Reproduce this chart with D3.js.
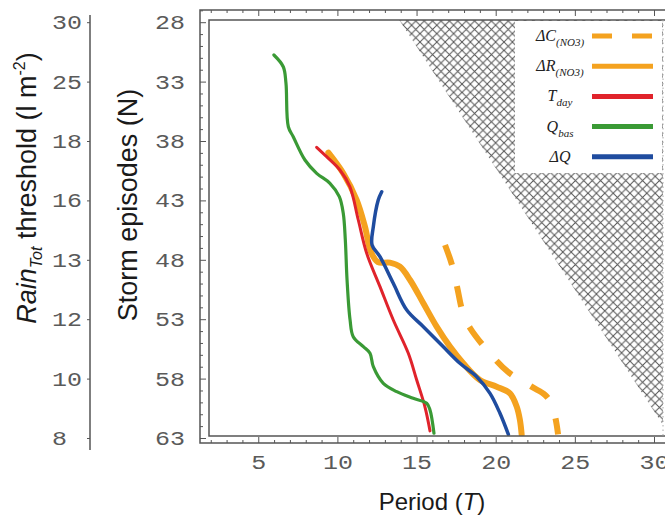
<!doctype html>
<html>
<head>
<script src="https://d3js.org/d3.v7.min.js"></script>
<style>
  body { margin: 0; background: #fff; }
  .num text { font-family: "Liberation Mono", monospace; font-size: 20px; fill: #5a5a5a; }
  .title { font-family: "Liberation Sans", Arial, sans-serif; fill: #1a1a1a; }
  .leg { font-family: "Liberation Serif", "Times New Roman", serif; font-style: italic; font-size: 16px; fill: #222; }
  .frame { fill: none; stroke: #555; stroke-width: 1.5; }
  .fticks line { stroke: #555; stroke-width: 1; }
</style>
</head>
<body>
<svg id="chart" width="665" height="518"></svg>
<script>
// tick labels
const nTicks = [28, 33, 38, 43, 48, 53, 58, 63];
const rainTicks = ["30", "25", "18", "16", "13", "12", "10", "8"];
const periodTicks = [5, 10, 15, 20, 25, 30];

// series: [period T, storm episodes N]
const dCNO3 = [[16.8,46.75],[17.24,48.43],[17.56,50.28],[17.93,52.47],[18.38,53.74],[19.83,56.18],[20.78,57.44],[22.29,58.7],[23.12,59.38],[23.56,60.22],[23.8,61.5],[23.94,62.7]];
const dRNO3 = [[9.43,38.98],[10.37,40.72],[11.22,42.97],[11.74,45.21],[12.12,47.34],[12.56,48.19],[13.32,48.24],[13.95,48.58],[14.59,49.7],[15.43,51.66],[16.27,53.63],[17.11,55.31],[17.95,56.71],[19.0,58.11],[20.06,58.68],[20.9,59.24],[21.33,60.37],[21.53,61.49],[21.64,62.7]];
const tDay = [[8.69,38.53],[9.32,39.32],[10.16,40.44],[10.79,41.85],[11.32,44.65],[11.85,47.45],[12.69,50.26],[13.53,53.07],[14.48,55.87],[15.01,58.12],[15.53,60.37],[15.85,62.4]];
const qBas = [[5.99,30.76],[6.58,31.75],[6.75,33.12],[6.9,36.8],[7.21,37.64],[7.95,39.6],[8.69,40.72],[9.53,41.56],[10.12,42.69],[10.37,44.09],[10.5,46.33],[10.61,49.7],[10.8,53.06],[11.0,54.47],[11.64,55.31],[12.06,55.87],[12.27,57.0],[12.9,58.4],[13.75,59.1],[14.79,59.66],[15.64,60.08],[15.85,60.64],[16.1,62.6]];
const dQ = [[12.8,42.27],[12.58,42.97],[12.27,45.21],[12.19,46.75],[12.69,47.74],[13.53,49.98],[14.38,52.23],[15.43,53.63],[16.69,55.32],[17.74,56.71],[18.8,57.84],[19.64,59.24],[20.27,60.92],[20.8,62.7]];

// edge of the hatched (excluded) region
const hatchEdge = [[13.9, 27.8], [31.1, 63]];

const series = [
  { name: "ΔC", sub: "(NO3)", data: dCNO3, color: "#f4a21f", width: 6, dash: "21,22" },
  { name: "ΔR", sub: "(NO3)", data: dRNO3, color: "#f4a21f", width: 6, dash: null },
  { name: "T", sub: "day", data: tDay, color: "#e0232b", width: 3, dash: null },
  { name: "Q", sub: "bas", data: qBas, color: "#3a9a35", width: 3.2, dash: null },
  { name: "ΔQ", sub: "", data: dQ, color: "#1f4c9f", width: 3.5, dash: null }
];

const svg = d3.select("#chart");
const outer = { left: 200, top: 10, bottom: 443, right: 700 };
const inner = { left: 209, top: 20, bottom: 436, right: 663 };

const x = d3.scaleLinear().domain([0, 30]).range([179.1, 654]);
const y = d3.scaleLinear().domain([28, 63]).range([22.2, 438]);

// hatch pattern
const defs = svg.append("defs");
const hs = 8.4;
const pat = defs.append("pattern").attr("id", "hatch")
  .attr("patternUnits", "userSpaceOnUse").attr("width", hs).attr("height", hs);
pat.append("path").attr("d", `M0,0L${hs},${hs}M0,${hs}L${hs},0`)
  .attr("stroke", "#555").attr("stroke-width", 1);
defs.append("clipPath").attr("id", "plotclip").append("rect")
  .attr("x", inner.left).attr("y", inner.top)
  .attr("width", inner.right - inner.left).attr("height", inner.bottom - inner.top);

const plot = svg.append("g").attr("clip-path", "url(#plotclip)");
const hatchPoly = hatchEdge.concat([[40, hatchEdge[1][1]], [40, hatchEdge[0][1]]]);
plot.append("path")
  .attr("d", "M" + hatchPoly.map(p => x(p[0]) + "," + y(p[1])).join("L") + "Z")
  .attr("fill", "url(#hatch)");

// frames
svg.append("rect").attr("class", "frame")
  .attr("x", outer.left).attr("y", outer.top)
  .attr("width", outer.right - outer.left).attr("height", outer.bottom - outer.top);
svg.append("rect").attr("class", "frame")
  .attr("x", inner.left).attr("y", inner.top)
  .attr("width", 800).attr("height", inner.bottom - inner.top);
svg.append("line").attr("x1", inner.right).attr("x2", inner.right)
  .attr("y1", inner.top).attr("y2", inner.bottom)
  .attr("stroke", "#aaa").attr("stroke-dasharray", "1.5,3");

// frame ticks (inward)
const xMinor = d3.range(2, 33), nMinor = d3.range(27, 64);
const tickLen = (major) => major ? 6 : 3;
function frameTicks(axisFn, scale, vals, isMajor, pos, sign) {
  [false, true].forEach(m => {
    const g = svg.append("g").attr("class", "fticks").attr("transform", pos)
      .call(axisFn(scale).tickValues(vals.filter(v => isMajor(v) === m))
        .tickSize(sign * tickLen(m)).tickFormat(""));
    g.select(".domain").remove();
  });
}
frameTicks(d3.axisBottom, x, xMinor, v => v % 5 === 0, `translate(0,${outer.bottom})`, -1);
frameTicks(d3.axisTop, x, xMinor, v => v % 5 === 0, `translate(0,${outer.top})`, -1);
frameTicks(d3.axisLeft, y, nMinor, v => (v - 28) % 5 === 0, `translate(${outer.left},0)`, -1);

// lines
const line = d3.line().x(d => x(d[0])).y(d => y(d[1])).curve(d3.curveCatmullRom.alpha(0.5));
plot.selectAll("path.series").data(series).enter().append("path")
  .attr("class", "series")
  .attr("d", s => line(s.data))
  .attr("fill", "none")
  .attr("stroke", s => s.color)
  .attr("stroke-width", s => s.width)
  .attr("stroke-dasharray", s => s.dash)
  .attr("stroke-linecap", s => s.dash ? "butt" : "round")
  .attr("stroke-linejoin", "round");

// legend
svg.append("rect").attr("x", 515).attr("y", 21).attr("width", 147).attr("height", 152).attr("fill", "#fff");
const leg = svg.append("g").selectAll("g").data(series).enter().append("g")
  .attr("transform", (s, i) => `translate(0,${36 + i * 30.2})`);
leg.append("line").attr("x1", 592).attr("x2", 653)
  .attr("stroke", s => s.color).attr("stroke-width", 5)
  .attr("stroke-dasharray", s => s.dash ? "20,20" : null);
const lt = leg.append("text").attr("class", "leg").attr("x", 560).attr("y", 5).attr("text-anchor", "middle");
lt.append("tspan").text(s => s.name);
lt.append("tspan").attr("font-size", 11).attr("dy", 5).text(s => s.sub);

// tick labels
const nAxis = svg.append("g").attr("class", "num").attr("transform", `translate(${outer.left},0)`)
  .call(d3.axisLeft(y).tickValues(nTicks).tickSize(0).tickPadding(15));
nAxis.select(".domain").remove();
nAxis.selectAll("text").attr("textLength", 30).attr("lengthAdjust", "spacingAndGlyphs");

const xAxis = svg.append("g").attr("class", "num").attr("transform", `translate(0,${outer.bottom})`)
  .call(d3.axisBottom(x).tickValues(periodTicks).tickSize(0).tickPadding(12));
xAxis.select(".domain").remove();
xAxis.selectAll("text").attr("textLength", d => String(d).length * 15).attr("lengthAdjust", "spacingAndGlyphs");

const rainScale = d3.scalePoint().domain(rainTicks).range([y(nTicks[0]), y(nTicks[nTicks.length - 1])]);
const rAxis = svg.append("g").attr("class", "num").attr("transform", "translate(90,0)")
  .call(d3.axisLeft(rainScale).tickSize(3).tickPadding(5).tickFormat(d => d.length < 2 ? d + "\u00A0" : d));
rAxis.select(".domain").remove();
rAxis.selectAll("line").attr("stroke", "#555");
rAxis.selectAll("text").attr("textLength", 30).attr("lengthAdjust", "spacingAndGlyphs");
svg.append("line").attr("x1", 90).attr("x2", 90).attr("y1", 15).attr("y2", 450)
  .attr("stroke", "#555").attr("stroke-width", 1.5);

// axis titles
const rt = svg.append("text").attr("class", "title").attr("font-size", 27)
  .attr("transform", "translate(36,188) rotate(-90)").attr("text-anchor", "middle");
rt.append("tspan").attr("font-style", "italic").text("Rain");
rt.append("tspan").attr("font-style", "italic").attr("font-size", 16).attr("dy", 6).text("Tot");
rt.append("tspan").attr("dy", -6).text(" threshold (l m");
rt.append("tspan").attr("font-size", 16).attr("dy", -11).text("-2");
rt.append("tspan").attr("dy", 11).text(")");

svg.append("text").attr("class", "title").attr("font-size", 27)
  .attr("transform", "translate(137,205) rotate(-90)").attr("text-anchor", "middle")
  .text("Storm episodes (N)");

const pt = svg.append("text").attr("class", "title").attr("font-size", 24)
  .attr("x", 432).attr("y", 510).attr("text-anchor", "middle");
pt.append("tspan").text("Period (");
pt.append("tspan").attr("font-style", "italic").text("T");
pt.append("tspan").text(")");
</script>
</body>
</html>
